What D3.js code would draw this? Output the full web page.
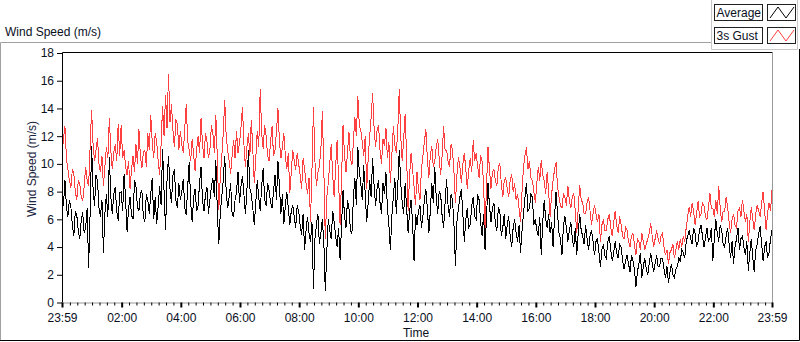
<!DOCTYPE html>
<html><head><meta charset="utf-8">
<script src="https://cdn.jsdelivr.net/npm/d3@7"></script>
<style>html,body{margin:0;padding:0;background:#fff;} svg{display:block;font-family:"Liberation Sans",Arial,sans-serif;}</style>
</head><body><svg id="c" width="800" height="342"></svg>
<script>
// ---- data (one value every 3 minutes starting 23:59) ----
const stepMinutes = 3;
const averageSpeed = [
 7.6, 7.0, 8.8, 6.9, 6.2, 7.4, 6.9, 5.6, 4.8, 6.6, 6.3, 5.2, 4.6, 5.9, 6.5, 5.0, 5.4, 6.8, 2.5, 6.4,
 11.3, 8.2, 7.0, 9.2, 8.8, 6.8, 6.2, 7.4, 3.6, 6.4, 7.8, 6.2, 10.5, 7.6, 6.4, 7.8, 8.3, 6.6, 5.9, 7.9,
 8.0, 6.6, 9.3, 7.4, 5.1, 6.8, 7.6, 6.3, 6.0, 8.8, 8.4, 6.9, 6.6, 7.9, 8.1, 6.2, 5.8, 7.8, 7.4, 6.4,
 7.8, 9.0, 6.0, 7.6, 5.7, 6.9, 8.4, 7.0, 11.1, 8.0, 5.2, 8.8, 10.6, 8.2, 7.2, 9.2, 9.6, 7.4, 6.8, 8.6,
 7.4, 8.0, 8.9, 6.8, 6.3, 8.4, 10.1, 7.2, 5.8, 7.6, 8.2, 6.6, 7.0, 8.6, 9.8, 7.4, 6.6, 7.8, 8.3, 6.4,
 7.4, 8.4, 9.0, 7.6, 10.3, 6.6, 4.2, 6.4, 7.6, 8.8, 10.6, 8.0, 6.8, 7.6, 8.6, 6.4, 6.2, 7.4, 8.0, 9.4,
 7.2, 8.4, 9.1, 7.8, 6.4, 8.0, 11.0, 8.2, 7.8, 6.8, 5.6, 7.2, 8.8, 7.6, 6.6, 8.4, 9.7, 7.4, 7.0, 8.6,
 8.1, 7.2, 6.8, 8.0, 9.2, 7.4, 10.2, 8.4, 6.4, 7.8, 5.7, 7.0, 8.0, 6.8, 5.6, 6.6, 7.0, 6.2, 5.4, 7.0,
 6.6, 5.6, 4.9, 6.4, 3.8, 5.2, 6.2, 5.0, 4.4, 5.8, 1.0, 4.6, 5.6, 6.4, 4.2, 5.0, 6.0, 4.4, 0.8, 3.6,
 6.0, 5.2, 4.6, 6.6, 5.8, 4.8, 4.0, 5.4, 3.1, 5.6, 8.1, 6.2, 5.4, 7.4, 6.8, 5.2, 5.0, 7.6, 9.0, 7.0,
 11.2, 9.4, 8.6, 7.4, 9.9, 7.8, 5.8, 7.2, 8.8, 7.6, 10.4, 8.4, 7.0, 8.2, 8.8, 7.2, 6.4, 8.6, 7.8, 9.4,
 6.8, 5.6, 3.8, 6.2, 7.6, 9.0, 6.4, 8.4, 11.0, 8.6, 7.2, 6.4, 8.6, 6.8, 5.0, 6.6, 7.4, 5.8, 3.0, 6.4,
 5.6, 6.6, 7.0, 5.4, 6.2, 7.4, 8.2, 6.8, 5.0, 6.6, 8.6, 7.2, 9.8, 7.6, 6.4, 8.0, 7.8, 6.2, 5.4, 7.2,
 8.9, 7.0, 6.2, 7.8, 7.4, 5.6, 2.6, 5.8, 6.8, 7.6, 8.2, 6.4, 4.4, 6.0, 6.8, 5.4, 5.6, 7.0, 7.6, 6.2,
 6.0, 7.8, 7.4, 5.8, 4.8, 6.4, 3.8, 6.2, 8.6, 7.0, 5.8, 6.8, 7.2, 5.6, 5.2, 6.8, 6.6, 4.8, 5.4, 6.4,
 4.6, 5.6, 6.2, 4.8, 4.0, 5.4, 6.0, 5.0, 4.4, 5.6, 3.6, 5.2, 6.4, 7.6, 8.6, 6.6, 6.8, 7.8, 7.6, 5.6,
 6.0, 5.2, 4.8, 6.2, 3.4, 5.8, 7.4, 6.0, 5.4, 6.4, 5.0, 5.8, 4.0, 6.2, 8.0, 6.4, 5.0, 4.6, 3.4, 5.6,
 6.2, 5.4, 4.4, 5.2, 5.8, 4.6, 4.0, 5.4, 3.4, 5.0, 6.4, 5.2, 4.8, 4.2, 5.6, 4.6, 3.8, 4.8, 5.2, 4.4,
 3.4, 4.4, 4.6, 3.6, 2.6, 3.8, 4.2, 3.4, 3.2, 4.4, 4.8, 3.8, 3.0, 3.6, 4.4, 3.6, 3.2, 4.2, 4.0, 3.0,
 2.4, 3.0, 3.4, 2.8, 2.2, 3.4, 3.0, 2.4, 1.1, 2.2, 2.8, 3.6, 1.8, 2.6, 3.2, 2.4, 2.0, 2.8, 3.6, 2.8,
 2.2, 2.8, 3.4, 2.6, 2.6, 3.2, 3.2, 2.4, 1.8, 2.6, 1.4, 2.2, 2.8, 2.0, 1.8, 2.4, 2.6, 3.2, 3.0, 3.8,
 3.6, 3.2, 4.4, 4.8, 5.2, 4.6, 4.2, 5.4, 5.0, 4.0, 4.4, 5.2, 5.6, 4.8, 4.0, 4.6, 5.4, 4.4, 4.6, 5.4,
 3.0, 4.6, 6.0, 5.0, 4.4, 5.6, 5.2, 4.2, 4.0, 4.8, 5.4, 4.2, 3.2, 4.4, 2.8, 4.0, 4.6, 5.4, 3.8, 4.6,
 4.8, 4.0, 3.4, 4.4, 2.3, 3.6, 4.6, 3.2, 2.2, 3.8, 4.2, 5.0, 5.5, 4.2, 3.0, 4.0, 4.4, 3.2, 3.6, 4.6, 5.2
];
const gustSpeed = [
 10.6, 11.8, 12.7, 10.4, 9.6, 8.8, 8.3, 9.6, 9.3, 8.0, 7.4, 8.8, 8.6, 7.6, 7.3, 8.4, 9.8, 8.8, 8.4, 11.2,
 13.9, 11.4, 10.2, 11.0, 11.9, 10.0, 9.4, 10.6, 8.4, 9.8, 11.2, 10.4, 13.3, 11.0, 9.6, 10.8, 11.4, 10.2, 12.9, 10.6,
 12.8, 10.4, 11.0, 9.8, 9.2, 10.2, 8.2, 9.6, 10.6, 9.4, 11.4, 10.0, 12.5, 10.6, 9.7, 10.8, 11.0, 9.8, 12.2, 11.0,
 13.5, 11.6, 10.4, 12.2, 11.6, 10.2, 9.2, 11.4, 14.2, 12.0, 15.0, 12.6, 16.5, 13.0, 14.3, 12.4, 11.2, 13.2, 12.9, 11.0,
 12.4, 11.4, 10.8, 12.6, 14.3, 11.6, 11.0, 10.2, 11.8, 10.6, 9.5, 11.0, 12.0, 10.8, 13.3, 11.4, 10.4, 12.2, 11.6, 10.4,
 11.0, 12.8, 12.2, 10.8, 13.5, 10.4, 6.7, 9.0, 10.5, 12.2, 14.6, 12.0, 11.0, 10.2, 9.3, 10.6, 11.7, 10.4, 12.4, 10.8,
 11.5, 12.6, 14.1, 11.4, 9.8, 11.2, 12.2, 10.6, 13.2, 11.0, 8.6, 10.4, 12.4, 11.2, 15.4, 12.2, 11.1, 12.8, 12.0, 10.6,
 10.2, 11.6, 12.7, 10.6, 11.0, 12.4, 14.0, 11.6, 10.4, 11.2, 12.2, 10.6, 9.6, 10.8, 7.9, 9.4, 11.0, 10.2, 9.6, 10.8,
 10.0, 9.2, 8.2, 10.4, 9.6, 8.6, 7.8, 9.0, 5.8, 9.6, 14.1, 10.2, 8.4, 9.4, 9.8, 11.0, 13.8, 9.6, 4.6, 7.6,
 8.6, 10.0, 11.4, 9.2, 7.6, 9.8, 11.7, 8.8, 5.6, 9.0, 12.8, 10.6, 9.4, 10.8, 12.3, 10.4, 9.9, 11.6, 13.4, 12.0,
 14.9, 12.8, 12.4, 11.6, 10.6, 12.0, 8.2, 10.4, 12.0, 13.4, 15.1, 12.6, 11.2, 12.4, 12.8, 11.0, 10.0, 11.8, 11.3, 12.6,
 10.4, 11.6, 8.6, 10.6, 12.7, 11.4, 10.8, 12.4, 15.4, 12.0, 10.2, 11.8, 13.6, 10.4, 6.6, 9.2, 10.8, 9.6, 8.4, 7.0,
 9.4, 8.2, 7.4, 9.6, 10.6, 11.6, 12.5, 10.4, 9.0, 10.6, 11.3, 9.8, 10.2, 11.2, 11.8, 10.4, 9.2, 10.6, 12.7, 11.0,
 11.0, 10.2, 9.8, 11.4, 11.0, 9.4, 7.2, 9.2, 10.5, 9.8, 8.6, 10.0, 10.8, 9.6, 8.2, 9.6, 10.4, 9.4, 11.7, 10.2,
 10.8, 9.8, 9.0, 10.6, 10.2, 8.6, 5.2, 8.4, 11.2, 9.6, 8.2, 9.4, 9.6, 8.8, 8.4, 9.8, 10.0, 8.6, 7.6, 8.8,
 9.0, 8.2, 7.6, 8.8, 9.3, 8.0, 8.6, 7.4, 7.8, 6.8, 5.8, 8.0, 9.8, 10.6, 11.2, 9.6, 10.2, 9.0, 8.8, 8.0,
 7.2, 8.6, 9.8, 8.8, 10.3, 9.2, 8.8, 7.8, 9.4, 8.0, 6.2, 7.8, 8.8, 9.6, 10.1, 8.4, 7.6, 7.0, 6.8, 7.8,
 7.6, 7.0, 8.4, 7.4, 6.8, 7.6, 7.9, 6.6, 5.0, 6.8, 8.5, 7.4, 7.2, 6.4, 6.4, 7.2, 7.6, 6.6, 5.6, 6.4,
 7.0, 6.4, 5.8, 6.4, 4.4, 5.6, 6.0, 5.2, 5.2, 6.0, 6.4, 5.4, 4.8, 5.8, 6.6, 5.6, 5.0, 6.2, 5.6, 4.8,
 4.6, 5.4, 5.2, 4.4, 4.0, 4.8, 5.0, 4.2, 3.4, 4.6, 4.4, 3.8, 5.0, 4.4, 3.8, 4.2, 4.6, 5.0, 5.7, 4.8,
 4.0, 4.6, 5.2, 4.6, 4.2, 4.8, 5.0, 4.0, 3.4, 3.8, 2.8, 3.6, 3.8, 4.2, 3.2, 3.8, 4.4, 3.8, 4.6, 4.0,
 4.8, 4.4, 5.4, 6.2, 6.9, 6.2, 7.2, 6.6, 5.6, 6.4, 7.3, 6.2, 6.4, 7.2, 7.0, 6.2, 6.0, 6.8, 7.9, 6.8,
 6.8, 6.2, 7.4, 6.4, 8.4, 6.8, 5.8, 6.6, 6.6, 7.6, 6.9, 5.8, 5.0, 6.0, 6.4, 5.6, 5.4, 6.6, 6.8, 6.2,
 7.4, 6.6, 5.8, 6.4, 4.4, 5.8, 6.9, 6.0, 5.2, 6.4, 7.0, 6.6, 6.2, 7.2, 8.0, 6.6, 5.2, 6.4, 7.2, 6.6, 8.1
];
const seriesNames = ["Average", "3s Gust"];
const seriesColors = ["#000000", "#ff4040"];
const yTicks = [0, 2, 4, 6, 8, 10, 12, 14, 16, 18];
const xTickMinutes = [0, 121, 241, 361, 481, 601, 721, 841, 961, 1081, 1201, 1321, 1440];
const xTickLabels = ["23:59", "02:00", "04:00", "06:00", "08:00", "10:00", "12:00", "14:00", "16:00", "18:00", "20:00", "22:00", "23:59"];
const chartTitle = "Wind Speed (m/s)";
const yTitle = "Wind Speed (m/s)";
const xTitle = "Time";

// ---- layout ----
const svg = d3.select("#c");
const L = 62, R = 772, T = 53, B = 302.5;
const x = d3.scaleLinear().domain([0, 1440]).range([L, R]);
const y = d3.scaleLinear().domain([0, 18]).range([B, T]);
const txt = "#0a0f1e";

// outer frame
const frame = svg.append("g").attr("fill", "none");
frame.append("path").attr("d", "M0.5,340 V42.5 H711.5").attr("stroke", "#a0a0a0");
frame.append("path").attr("d", "M711.5,0 V49.5 H797.5 V0").attr("stroke", "#c8c8c8");
frame.append("path").attr("d", "M0,340.5 H799.5 V49").attr("stroke", "#000");

// title
svg.append("text").attr("x", 5).attr("y", 36).attr("font-size", 12).attr("fill", txt).text(chartTitle);

// plot area
svg.append("rect").attr("x", L).attr("y", T).attr("width", R - L).attr("height", B - T).attr("fill", "#fff");
svg.append("clipPath").attr("id", "pc").append("rect")
  .attr("x", L).attr("y", T).attr("width", R - L).attr("height", B - T);

const line = d3.line().x((d, i) => x(i * stepMinutes)).y(d => y(d));
const plots = svg.append("g").attr("clip-path", "url(#pc)");
plots.append("path").datum(gustSpeed).attr("d", line).attr("fill", "none")
  .attr("stroke", seriesColors[1]).attr("stroke-width", 1).attr("shape-rendering", "crispEdges");
plots.append("path").datum(averageSpeed).attr("d", line).attr("fill", "none")
  .attr("stroke", seriesColors[0]).attr("stroke-width", 1).attr("shape-rendering", "crispEdges");

// plot border: top/left black, bottom/right gray
svg.append("path").attr("d", `M${L + 0.5},${B} V${T - 0.5} H${R + 0.5}`).attr("fill", "none").attr("stroke", "#000");
svg.append("path").attr("d", `M${L},${B + 0.5} H${R + 0.5} V${T}`).attr("fill", "none").attr("stroke", "#9a9a9a");

// y axis
const yAxis = d3.axisLeft(y).tickValues(yTicks).tickSize(5).tickPadding(3).tickFormat(d3.format("d"));
const gy = svg.append("g").attr("transform", `translate(${L},0)`).call(yAxis);
gy.select(".domain").remove();
gy.selectAll("text").attr("font-size", 12).attr("fill", txt).attr("font-family", "Liberation Sans, Arial, sans-serif");
gy.selectAll("line").attr("stroke", "#000");

// x axis: major ticks
const xAxis = d3.axisBottom(x).tickValues(xTickMinutes).tickSize(5).tickPadding(6)
  .tickFormat((d, i) => xTickLabels[i]);
const gx = svg.append("g").attr("transform", `translate(0,${B})`).call(xAxis);
gx.select(".domain").remove();
gx.selectAll("text").attr("font-size", 12).attr("fill", txt).attr("font-family", "Liberation Sans, Arial, sans-serif");
gx.selectAll("line").attr("stroke", "#000").attr("stroke-width", 2);
// minor ticks every 15 minutes of clock time
const minor = d3.range(1, 1440, 15).filter((m, k) => k % 8 !== 0);
const gm = svg.append("g").attr("transform", `translate(0,${B})`)
  .call(d3.axisBottom(x).tickValues(minor).tickSize(3).tickFormat(""));
gm.select(".domain").remove();
gm.selectAll("line").attr("stroke", "#000");

// axis titles
svg.append("text").attr("x", 416).attr("y", 337).attr("text-anchor", "middle").attr("font-size", 12).attr("fill", txt).text(xTitle);
svg.append("text").attr("transform", "translate(36,169) rotate(-90)").attr("text-anchor", "middle")
  .attr("font-size", 12).attr("fill", "#1a2540").text(yTitle);

// legend
const lg = svg.append("g");
const rows = [4, 27];
seriesNames.forEach((name, i) => {
  const y0 = rows[i];
  lg.append("rect").attr("x", 714.5).attr("y", y0 + 0.5).attr("width", 48).attr("height", 16).attr("fill", "#fff").attr("stroke", "#202020");
  lg.append("text").attr("x", 716.5).attr("y", y0 + 13).attr("font-size", 12).attr("fill", txt).text(name);
  lg.append("rect").attr("x", 767.5).attr("y", y0 + 0.5).attr("width", 28).attr("height", 16).attr("fill", "#fff").attr("stroke", "#202020");
  const sx = d3.scaleLinear().domain([0, 3]).range([770, 794]);
  const sy = d3.scaleLinear().domain([0, 1]).range([y0 + 14, y0 + 3]);
  lg.append("path").datum([0, 1, 0, 1])
    .attr("d", d3.line().x((d, j) => sx(j)).y(d => sy(d)))
    .attr("fill", "none").attr("stroke", seriesColors[i]);
});
</script>
</body></html>
